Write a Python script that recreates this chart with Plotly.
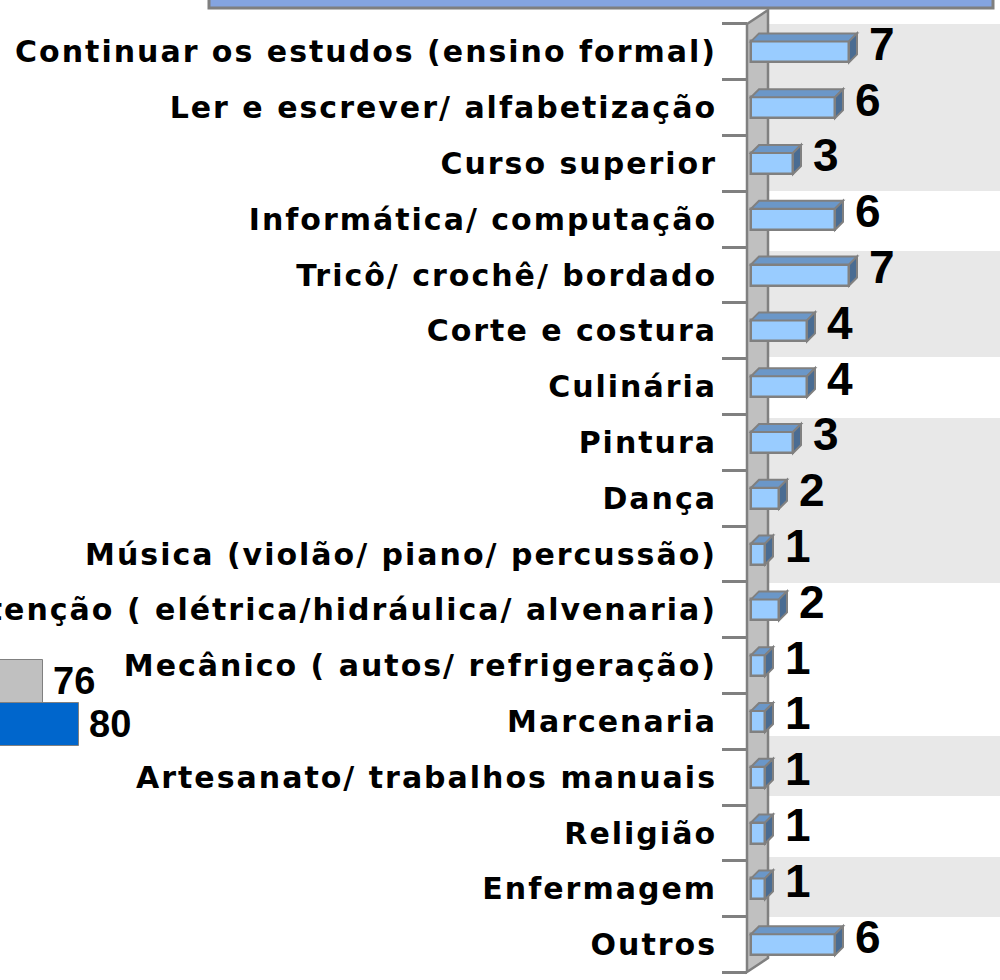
import plotly.graph_objects as go

# ---------------- data ----------------
categories = [
    "Continuar os estudos (ensino formal)",
    "Ler e escrever/ alfabetização",
    "Curso superior",
    "Informática/ computação",
    "Tricô/ crochê/ bordado",
    "Corte e costura",
    "Culinária",
    "Pintura",
    "Dança",
    "Música (violão/ piano/ percussão)",
    "Manutenção ( elétrica/hidráulica/ alvenaria)",
    "Mecânico ( autos/ refrigeração)",
    "Marcenaria",
    "Artesanato/ trabalhos manuais",
    "Religião",
    "Enfermagem",
    "Outros",
]
values = [7, 6, 3, 6, 7, 4, 4, 3, 2, 1, 2, 1, 1, 1, 1, 1, 6]

# partially visible neighbouring chart (cut off at the left edge)
side_categories = ["Série A", "Série B"]
side_values = [76, 80]
side_colors = ["#C0C0C0", "#0066CC"]

# ---------------- helpers ----------------
W, H = 1000, 980


def px(x):
    return x / W


def py(y):
    return 1 - y / H


BAR_W = 0.376          # bar thickness (category units)
DX = 8 / 14.0          # 3D depth in value units
DY = 8 / 55.8          # 3D depth in category units

fig = go.Figure()

# main bars (front faces)
fig.add_trace(go.Bar(
    y=categories, x=values, orientation="h", width=BAR_W,
    marker=dict(color="#99CCFF", line=dict(color="#808080", width=2.5)),
    xaxis="x", yaxis="y", showlegend=False, hoverinfo="x+y",
))

# neighbouring chart bars
fig.add_trace(go.Bar(
    y=side_categories, x=side_values, orientation="h", width=1.0,
    marker=dict(color=side_colors, line=dict(color="#808080", width=1)),
    xaxis="x2", yaxis="y2", showlegend=False, hoverinfo="x",
))

shapes = []
# background bands
for y0, y1 in [(24, 191), (251, 357), (418, 583), (736, 796), (857, 917)]:
    shapes.append(dict(type="rect", xref="paper", yref="paper",
                       x0=px(768), x1=px(1000), y0=py(y1), y1=py(y0),
                       fillcolor="#E8E8E8", line=dict(width=0), layer="below"))
# side wall
shapes.append(dict(
    type="path", xref="paper", yref="paper", layer="below",
    path=f"M {px(747)},{py(24)} L {px(768)},{py(10)} L {px(768)},{py(958)} L {px(747)},{py(972)} Z",
    fillcolor="#C0C0C0", line=dict(color="#808080", width=2.5)))
# title box (mostly above the visible area)
shapes.append(dict(type="rect", xref="paper", yref="paper",
                   x0=px(209), x1=px(993), y0=py(8), y1=py(-20),
                   fillcolor="#84A4E0", line=dict(color="#7F7F7F", width=3)))

# 3D faces of the bars, derived from the data through the axes
for i, v in enumerate(values):
    top = i - BAR_W / 2
    bot = i + BAR_W / 2
    shapes.append(dict(
        type="path", xref="x", yref="y",
        path=f"M 0,{top} L {v},{top} L {v + DX},{top - DY} L {DX},{top - DY} Z",
        fillcolor="#6B97C8", line=dict(color="#808080", width=2)))
    shapes.append(dict(
        type="path", xref="x", yref="y",
        path=f"M {v},{top} L {v + DX},{top - DY} L {v + DX},{bot - DY} L {v},{bot} Z",
        fillcolor="#4A6C92", line=dict(color="#808080", width=2)))

annotations = []
for i, v in enumerate(values):
    annotations.append(dict(
        x=v, y=i, xref="x", yref="y", text=str(v), showarrow=False,
        xanchor="left", yanchor="middle", xshift=18, yshift=8,
        font=dict(family="Liberation Sans, Arial", size=46, color="black", weight="bold")))
for c, v in zip(side_categories, side_values):
    annotations.append(dict(
        x=v, y=c, xref="x2", yref="y2", text=str(v), showarrow=False,
        xanchor="left", yanchor="middle", xshift=8, yshift=1,
        font=dict(family="Liberation Sans Narrow, Liberation Sans, Arial", size=38,
                  color="black", weight="bold")))

ticktext = [f'<span style="letter-spacing:2px">{c}</span>' for c in categories]

fig.update_layout(
    width=W, height=H,
    margin=dict(l=0, r=0, t=0, b=0, autoexpand=False),
    paper_bgcolor="white", plot_bgcolor="rgba(0,0,0,0)",
    bargap=0, shapes=shapes, annotations=annotations,
    xaxis=dict(domain=[0, 1], range=[-751 / 14, 249 / 14], visible=False,
               fixedrange=True, automargin=False),
    yaxis=dict(
        type="category", categoryorder="array", categoryarray=categories,
        range=[16.633, -0.930], anchor="free", position=0.747, automargin=False,
        tickmode="array", tickvals=categories, ticktext=ticktext,
        tickson="boundaries", ticks="outside", ticklen=25, tickwidth=2.5,
        tickcolor="#808080", showline=False, showgrid=False, zeroline=False,
        ticklabelstandoff=30,
        tickfont=dict(family="DejaVu Sans", size=30, color="black", weight="bold"),
        fixedrange=True,
    ),
    xaxis2=dict(overlaying="x", domain=[0, 1], range=[641 / 9, 1641 / 9],
                visible=False, fixedrange=True, automargin=False),
    yaxis2=dict(overlaying="y", type="category", categoryorder="array",
                categoryarray=side_categories, range=[(980 - 681.5) / 43, -681.5 / 43],
                visible=False, fixedrange=True, automargin=False),
)

fig.write_html(
    "out.html",
    config={"displayModeBar": False},
    post_script="document.body.style.margin='0';document.body.style.overflow='hidden';",
)
